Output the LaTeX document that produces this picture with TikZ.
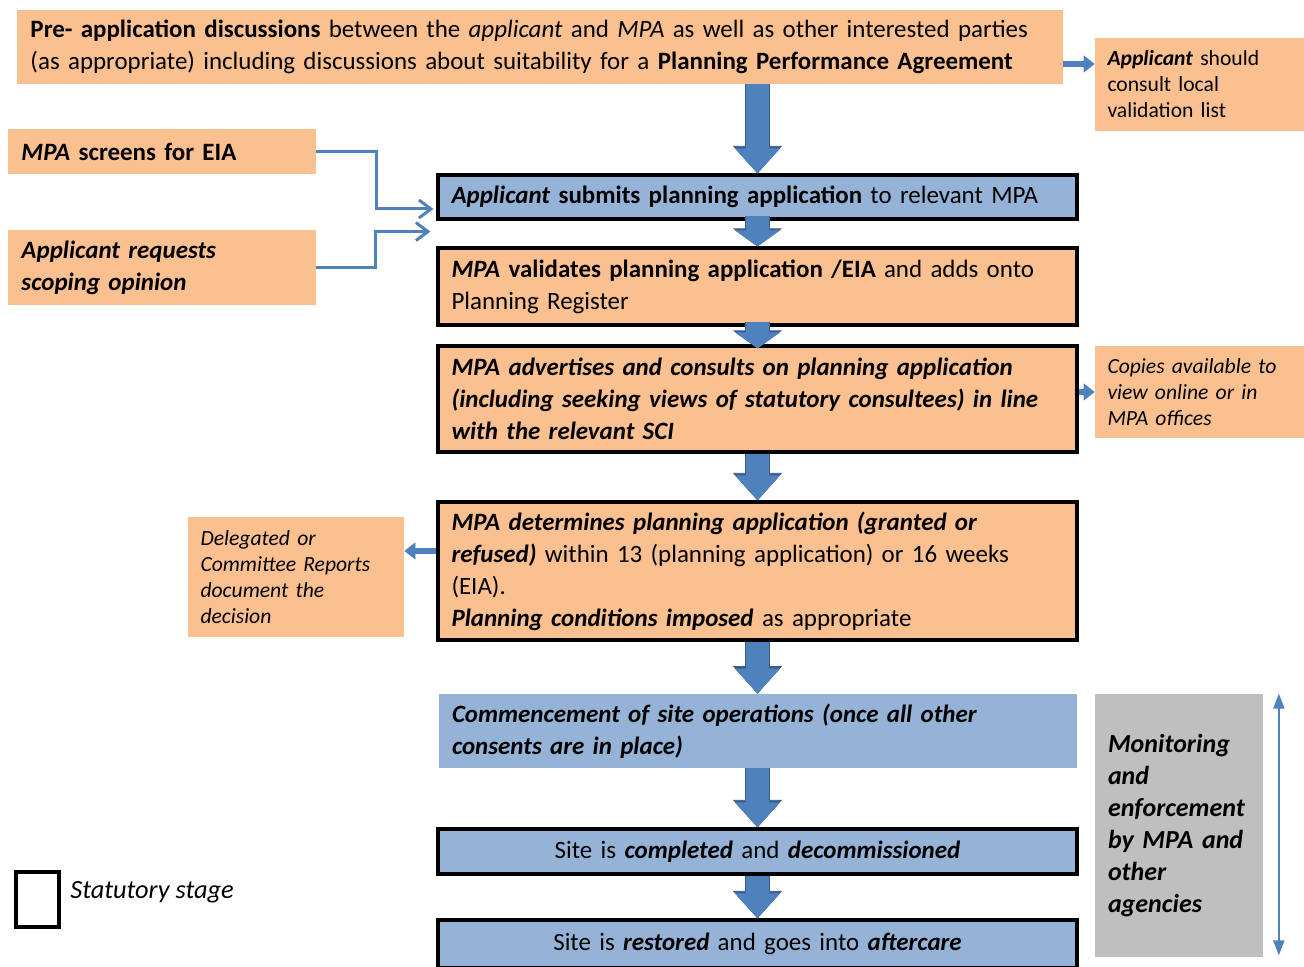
\documentclass[tikz,border=0pt]{standalone}
\usepackage{fontspec}
\setmainfont{Carlito}
\usetikzlibrary{arrows.meta}
\definecolor{boxorange}{RGB}{250,192,144}
\definecolor{boxblue}{RGB}{149,179,215}
\definecolor{arrowblue}{RGB}{79,129,189}
\definecolor{arrowdark}{RGB}{56,93,138}
\definecolor{boxgrey}{RGB}{191,191,191}
\tikzset{
  box/.style={
    inner xsep=0.27cm,
    inner ysep=0pt,
    align=left,
    font=\fontsize{14.2}{18.2}\selectfont
  },
  box-orange/.style={box, fill=boxorange},
  box-blue/.style={box, fill=boxblue},
  stage/.style={draw=black, line width=1.8pt},
  note/.style={box, fill=boxorange, inner xsep=0.25cm, font=\fontsize{12.3}{14.8}\selectfont},
  block-arrow/.style={
    draw=arrowblue,
    line width=0.46cm,
    preaction={draw=arrowdark, line width=0.5cm, -{Triangle[width=0.98cm, length=0.55cm, line width=0.4pt]}},
    -{Triangle[width=0.9cm, length=0.5cm, line width=0.4pt]}
  },
  short-arrow/.style={
    draw=arrowblue,
    line width=0.46cm,
    preaction={draw=arrowdark, line width=0.5cm, -{Triangle[width=0.98cm, length=0.36cm, line width=0.4pt]}},
    -{Triangle[width=0.9cm, length=0.32cm, line width=0.4pt]}
  },
  side-arrow/.style={
    draw=arrowblue,
    line width=0.12cm,
    -{Triangle[width=0.34cm, length=0.22cm, line width=0.4pt]}
  },
  feed-line/.style={
    draw=arrowblue,
    line width=1.7pt,
    -{Straight Barb[length=0.24cm, width=0.36cm]}
  },
  span-line/.style={
    draw=arrowblue,
    line width=1.1pt,
    {Triangle[width=0.22cm, length=0.3cm]}-{Triangle[width=0.22cm, length=0.3cm]}
  }
}

\begin{document}
\begin{tikzpicture}
  \fill[white] (0,0) rectangle (26.08,19.34);
  \useasboundingbox (0,0) rectangle (26.08,19.34);
  % side boxes
  \node[box-orange, text width=20.38cm, minimum height=1.48cm] (pre) at (10.80,18.40)
    {\textbf{Pre- application discussions} between the \textit{applicant} and \textit{MPA} as well as other interested parties\\
     (as appropriate) including discussions about suitability for a \textbf{Planning Performance Agreement}};
  \node[note, text width=3.68cm, minimum height=1.86cm] (vallist) at (23.99,17.65)
    {\textbf{\textit{Applicant}} should\\ consult local\\ validation list};
  \node[box-orange, text width=5.62cm, minimum height=0.90cm] (screens) at (3.24,16.31)
    {\textbf{\textit{MPA} screens for EIA}};
  \node[box-orange, text width=5.62cm, minimum height=1.50cm] (scoping) at (3.24,13.99)
    {\textbf{\textit{Applicant requests\\ scoping opinion}}};
  % main column
  \node[box-blue, stage, text width=12.24cm, minimum height=0.88cm] (submit) at (15.15,15.40)
    {\textbf{\textit{Applicant} submits planning application} to relevant MPA};
  \node[box-orange, stage, text width=12.24cm, minimum height=1.54cm] (validate) at (15.15,13.61)
    {\textbf{\textit{MPA} validates planning application /EIA} and adds onto\\ Planning Register};
  \node[box-orange, stage, text width=12.24cm, minimum height=2.12cm] (advertise) at (15.15,11.36)
    {\textbf{\textit{MPA advertises and consults on planning application\\
     (including seeking views of statutory consultees) in line\\
     with the relevant SCI}}};
  \node[note, text width=3.68cm, minimum height=1.84cm] (copies) at (23.99,11.50)
    {\textit{Copies available to\\ view online or in\\ MPA offices}};
  \node[box-orange, stage, text width=12.24cm, minimum height=2.76cm] (determine) at (15.15,7.92)
    {\textbf{\textit{MPA determines planning application (granted or\\ refused)}} within 13 (planning application) or 16 weeks\\
     (EIA).\\ \textbf{\textit{Planning conditions imposed}} as appropriate};
  \node[note, text width=3.82cm, minimum height=2.40cm] (delegated) at (5.92,7.80)
    {\textit{Delegated or\\ Committee Reports\\ document the\\ decision}};
  \node[box-blue, text width=12.22cm, minimum height=1.48cm] (commence) at (15.15,4.72)
    {\textbf{\textit{Commencement of site operations (once all other\\ consents are in place)}}};
  \node[box-blue, stage, align=center, text width=12.24cm, minimum height=0.90cm] (completed) at (15.15,2.31)
    {Site is \textbf{\textit{completed}} and \textbf{\textit{decommissioned}}};
  \node[box-blue, stage, align=center, text width=12.24cm, minimum height=0.96cm] (restored) at (15.15,0.46)
    {Site is \textbf{\textit{restored}} and goes into \textbf{\textit{aftercare}}};
  \node[box, fill=boxgrey, text width=2.82cm, minimum height=5.26cm, font=\fontsize{14.8}{18.2}\selectfont] (monitor) at (23.57,2.83)
    {\textbf{\textit{Monitoring\\ and\\ enforcement\\ by MPA and\\ other\\ agencies}}};
  % legend
  \node[stage, fill=white, minimum width=0.86cm, minimum height=1.10cm, inner sep=0pt] (legend) at (0.75,1.35) {};
  \node[box, anchor=west, inner xsep=0pt, font=\fontsize{15}{18}\selectfont] (legendtext) at (1.40,1.50) {\textit{Statutory stage}};
  % block arrows
  \draw[block-arrow] (pre.south -| submit.north) -- (submit.north);
  \draw[short-arrow] ([yshift=0.1cm]submit.south) -- (validate.north);
  \draw[short-arrow] ([yshift=0.1cm]validate.south) -- ([yshift=-0.08cm]advertise.north);
  \draw[block-arrow] (advertise.south) -- (determine.north);
  \draw[block-arrow] (determine.south) -- (commence.north);
  \draw[block-arrow] (commence.south) -- (completed.north);
  \draw[block-arrow] (completed.south) -- (restored.north);
  % side arrows
  \draw[side-arrow] ([yshift=-0.34cm]pre.east) -- ([yshift=-0.34cm]pre.east -| vallist.west);
  \draw[side-arrow] (copies.west -| advertise.east) -- (copies.west);
  \draw[side-arrow] ([yshift=0.52cm]delegated.east -| determine.west) -- ([yshift=0.52cm]delegated.east);
  % feeds into submission
  \draw[feed-line] (screens.east) -- ++(1.2,0) |- ([xshift=-0.06cm, yshift=-0.24cm]submit.west);
  \draw[feed-line] (scoping.east) -- ++(1.18,0) |- ([xshift=-0.12cm, yshift=-0.22cm]submit.south west);
  % monitoring span
  \draw[span-line] ([xshift=0.32cm]monitor.north east) -- ([xshift=0.32cm, yshift=0.04cm]monitor.south east);
\end{tikzpicture}
\end{document}
